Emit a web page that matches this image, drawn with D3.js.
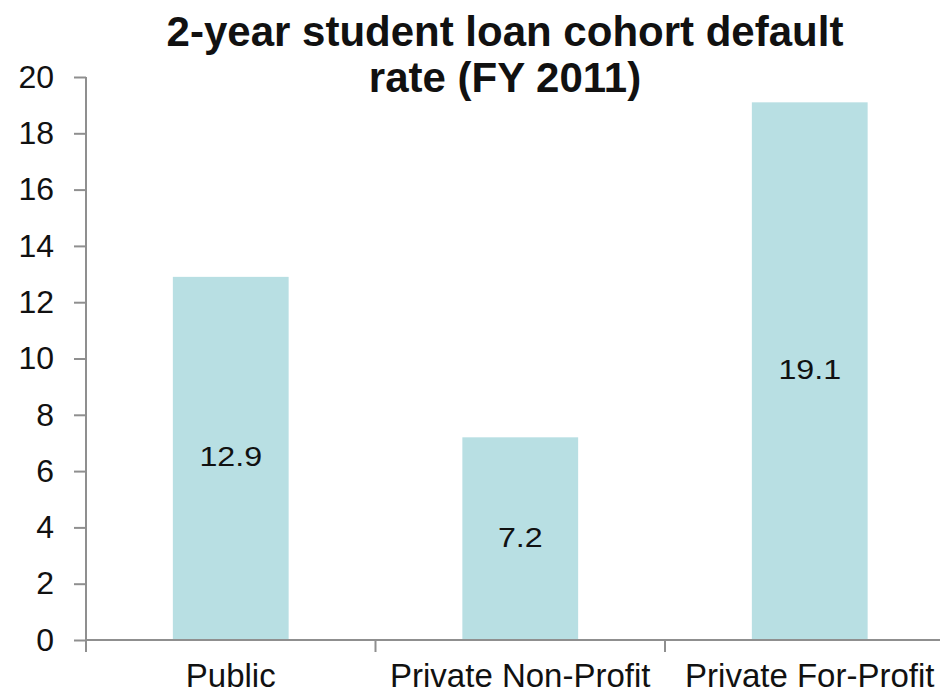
<!DOCTYPE html>
<html>
<head>
<meta charset="utf-8">
<script src="https://cdn.jsdelivr.net/npm/d3@7"></script>
<style>
  html, body { margin: 0; padding: 0; background: #fff; }
  svg { display: block; font-family: "Liberation Sans", Arial, sans-serif; }
</style>
</head>
<body>
<svg id="chart" width="940" height="695"></svg>
<script>
// Cohort default rates by institution type
const categories = ["Public", "Private Non-Profit", "Private For-Profit"];
const rates = [12.9, 7.2, 19.1];
const yTicks = [0, 2, 4, 6, 8, 10, 12, 14, 16, 18, 20];
const titleLines = ["2-year student loan cohort default", "rate (FY 2011)"];

const svg = d3.select("#chart");
const axisColor = "#8f8f8f";
const barColor = "#b8dfe3";

const plotLeft = 86, plotTop = 77, plotBottom = 640;
const band = 289.5;

const x = d3.scaleBand()
  .domain(categories)
  .range([plotLeft, plotLeft + band * categories.length])
  .paddingInner(0.6).paddingOuter(0.3);

const y = d3.scaleLinear().domain([0, 20]).range([plotBottom, plotTop]);

// Bars
svg.append("g").selectAll("rect")
  .data(categories)
  .join("rect")
  .attr("x", d => x(d))
  .attr("width", x.bandwidth())
  .attr("y", (d, i) => y(rates[i]))
  .attr("height", (d, i) => y(0) - y(rates[i]))
  .attr("fill", barColor);

// Value labels centred in each bar
svg.append("g").selectAll("text")
  .data(categories)
  .join("text")
  .attr("transform", (d, i) =>
    `translate(${x(d) + x.bandwidth() / 2},${(y(rates[i]) + y(0)) / 2 + 8}) scale(1.15,1)`)
  .attr("text-anchor", "middle")
  .attr("font-size", 28)
  .attr("fill", "#111")
  .text((d, i) => rates[i].toFixed(1));

// Y axis
const yAxis = d3.axisLeft(y).tickValues(yTicks).tickSize(12).tickPadding(20)
  .tickFormat(d3.format("d"));
const gy = svg.append("g").attr("transform", `translate(${plotLeft},0)`).call(yAxis);
gy.select(".domain").remove();
gy.selectAll(".tick line").attr("stroke", axisColor).attr("stroke-width", 2);
gy.selectAll(".tick text").attr("font-size", 32).attr("fill", "#111")
  .attr("font-family", "Liberation Sans, Arial, sans-serif");
gy.append("line")
  .attr("x1", 0).attr("x2", 0)
  .attr("y1", plotTop).attr("y2", plotBottom + 12)
  .attr("stroke", axisColor).attr("stroke-width", 2);

// X axis: boundary ticks between categories
const boundaries = d3.range(categories.length + 1).map(i => plotLeft + i * band);
const gx = svg.append("g");
gx.append("line")
  .attr("x1", plotLeft).attr("x2", plotLeft + band * categories.length)
  .attr("y1", plotBottom).attr("y2", plotBottom)
  .attr("stroke", axisColor).attr("stroke-width", 2);
gx.selectAll("line.bt")
  .data(boundaries)
  .join("line")
  .attr("class", "bt")
  .attr("x1", d => d).attr("x2", d => d)
  .attr("y1", plotBottom).attr("y2", plotBottom + 12)
  .attr("stroke", axisColor).attr("stroke-width", 2);
gx.selectAll("text")
  .data(categories)
  .join("text")
  .attr("x", d => x(d) + x.bandwidth() / 2)
  .attr("y", 687)
  .attr("text-anchor", "middle")
  .attr("font-size", 33)
  .attr("fill", "#111")
  .text(d => d);

// Title
svg.append("g").selectAll("text")
  .data(titleLines)
  .join("text")
  .attr("x", 505)
  .attr("y", (d, i) => 46 + i * 46)
  .attr("text-anchor", "middle")
  .attr("font-size", 42)
  .attr("font-weight", "bold")
  .attr("fill", "#111")
  .text(d => d);
</script>
</body>
</html>
